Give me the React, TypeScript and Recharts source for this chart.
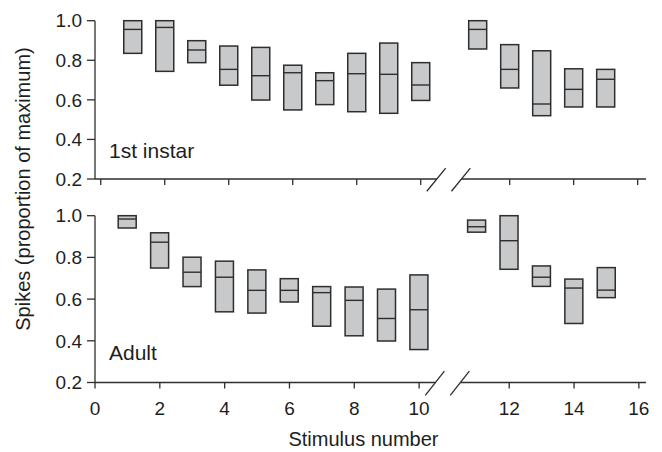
import { BarChart, Bar, XAxis, YAxis, ReferenceLine } from 'recharts'

// stimulus numbers; 11-15 sit after the axis break
const STIMULI = [1, 2, 3, 4, 5, 6, 7, 8, 9, 10, 11, 12, 13, 14, 15]
const X_TICKS = [0, 2, 4, 6, 8, 10, 12, 14, 16]
const Y_TICKS = [0.2, 0.4, 0.6, 0.8, 1.0]

const INSTAR_LOW = [0.835, 0.744, 0.788, 0.674, 0.599, 0.549, 0.576, 0.54, 0.532, 0.597, 0.857, 0.66, 0.52, 0.564, 0.564]
const INSTAR_MED = [0.956, 0.966, 0.852, 0.754, 0.722, 0.737, 0.697, 0.732, 0.729, 0.675, 0.956, 0.754, 0.579, 0.653, 0.704]
const INSTAR_HIGH = [1.0, 1.0, 0.899, 0.872, 0.865, 0.775, 0.737, 0.835, 0.887, 0.788, 1.0, 0.879, 0.848, 0.757, 0.754]

const ADULT_LOW = [0.941, 0.749, 0.66, 0.539, 0.533, 0.586, 0.47, 0.424, 0.399, 0.358, 0.921, 0.743, 0.661, 0.483, 0.607]
const ADULT_MED = [0.984, 0.873, 0.729, 0.705, 0.642, 0.642, 0.631, 0.594, 0.507, 0.549, 0.947, 0.88, 0.705, 0.653, 0.643]
const ADULT_HIGH = [1.0, 0.918, 0.801, 0.782, 0.74, 0.698, 0.66, 0.658, 0.648, 0.716, 0.979, 1.0, 0.759, 0.696, 0.751]

const BREAK = 0.78 // extra gap after stimulus 10
const GAP_FROM = 10.5
const GAP_TO = 11.27

const INK = '#2e2e2e'
const FONT = '"Liberation Sans", Arial, sans-serif'

const pos = (s: number) => (s <= 10 ? s : s + BREAK)
const unpos = (v: number) => Math.round(v > GAP_FROM ? v - BREAK : v)

function build(low: number[], med: number[], high: number[]) {
  return STIMULI.map((s, i) => ({ x: pos(s), range: [low[i], high[i]], low: low[i], med: med[i], high: high[i] }))
}

const instarData = build(INSTAR_LOW, INSTAR_MED, INSTAR_HIGH)
const adultData = build(ADULT_LOW, ADULT_MED, ADULT_HIGH)

function BoxShape(props: any) {
  const { x, y, width, height, payload } = props
  if (height == null) return null
  const my = y + (height * (payload.high - payload.med)) / (payload.high - payload.low)
  return (
    <g>
      <rect x={x} y={y} width={width} height={height} fill="#c8c9ca" stroke={INK} strokeWidth={1.5} />
      <line x1={x} x2={x + width} y1={my} y2={my} stroke={INK} strokeWidth={1.4} />
    </g>
  )
}

type PanelProps = {
  data: ReturnType<typeof build>
  domain: [number, number]
  height: number
  xAxisHeight: number
  showLabels: boolean
}

function Panel({ data, domain, height, xAxisHeight, showLabels }: PanelProps) {
  const slash = (cx: number) => [
    { x: cx - 0.31, y: 0.2 - 0.062 },
    { x: cx + 0.28, y: 0.2 + 0.055 },
  ]
  return (
    <BarChart width={662} height={height} data={data} margin={{ top: 20.7, right: 16, left: 0, bottom: 0 }}>
      <XAxis
        dataKey="x"
        type="number"
        domain={domain}
        ticks={X_TICKS.map(pos)}
        tickFormatter={(v: number) => (showLabels ? String(unpos(v)) : '')}
        interval={0}
        axisLine={false}
        tickLine={{ stroke: INK, strokeWidth: 1.3 }}
        tickSize={6}
        tickMargin={13}
        height={xAxisHeight}
        tick={{ fill: '#1e1e1e', fontSize: 19 }}
        label={
          showLabels
            ? { value: 'Stimulus number', position: 'insideBottom', offset: 6, dx: -7, fill: '#1e1e1e', fontSize: 20 }
            : undefined
        }
      />
      <YAxis
        type="number"
        domain={[0.2, 1.0]}
        ticks={Y_TICKS}
        tickFormatter={(v: number) => v.toFixed(1)}
        width={95}
        axisLine={{ stroke: INK, strokeWidth: 1.3 }}
        tickLine={{ stroke: INK, strokeWidth: 1.3 }}
        tickSize={8}
        tickMargin={5}
        tick={{ fill: '#1e1e1e', fontSize: 19 }}
      />
      <ReferenceLine
        segment={[{ x: domain[0], y: 0.2 }, { x: GAP_FROM, y: 0.2 }]}
        stroke={INK}
        strokeWidth={1.3}
        ifOverflow="visible"
      />
      <ReferenceLine
        segment={[{ x: GAP_TO, y: 0.2 }, { x: domain[1], y: 0.2 }]}
        stroke={INK}
        strokeWidth={1.3}
        ifOverflow="visible"
      />
      <ReferenceLine segment={slash(GAP_FROM)} stroke={INK} strokeWidth={1.3} ifOverflow="visible" />
      <ReferenceLine segment={slash(GAP_TO)} stroke={INK} strokeWidth={1.3} ifOverflow="visible" />
      <Bar dataKey="range" barSize={18} shape={BoxShape} isAnimationActive={false} />
    </BarChart>
  )
}

export default function App() {
  return (
    <div style={{ position: 'absolute', left: 0, top: 0, width: 662, height: 452, background: '#fff', fontFamily: FONT, color: '#1e1e1e' }}>
      <div style={{ position: 'absolute', left: 0, top: 0 }}>
        <Panel data={instarData} domain={[-0.18, 17.04]} height={200} xAxisHeight={21} showLabels={false} />
      </div>
      <div style={{ position: 'absolute', left: 0, top: 195 }}>
        <Panel data={adultData} domain={[0, 17.0]} height={257} xAxisHeight={69.5} showLabels />
      </div>
      <div style={{ position: 'absolute', left: 109, top: 140, fontSize: 21, lineHeight: '21px' }}>1st instar</div>
      <div style={{ position: 'absolute', left: 109, top: 342, fontSize: 21, lineHeight: '21px' }}>Adult</div>
      <svg style={{ position: 'absolute', left: 0, top: 0 }} width={40} height={452}>
        <text
          transform="translate(30, 189) rotate(-90)"
          textAnchor="middle"
          fontSize={20}
          fill="#1e1e1e"
          fontFamily={FONT}
        >
          Spikes (proportion of maximum)
        </text>
      </svg>
    </div>
  )
}
